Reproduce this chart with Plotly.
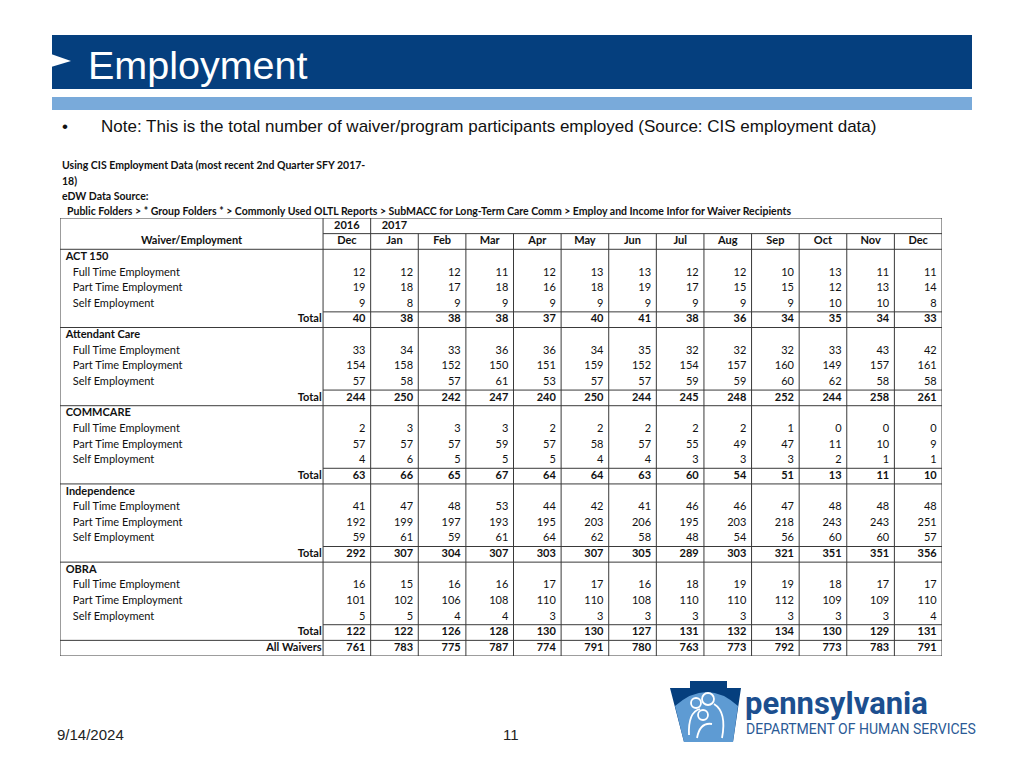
import plotly.graph_objects as go

# ---- data ----
years = ["2016", "2017"]
months = ["Dec", "Jan", "Feb", "Mar", "Apr", "May", "Jun", "Jul", "Aug", "Sep", "Oct", "Nov", "Dec"]
groups = ["ACT 150", "Attendant Care", "COMMCARE", "Independence", "OBRA"]
row_labels = ["Full Time Employment", "Part Time Employment", "Self Employment"]

act150_full = [12, 12, 12, 11, 12, 13, 13, 12, 12, 10, 13, 11, 11]
act150_part = [19, 18, 17, 18, 16, 18, 19, 17, 15, 15, 12, 13, 14]
act150_self = [9, 8, 9, 9, 9, 9, 9, 9, 9, 9, 10, 10, 8]
act150_total = [40, 38, 38, 38, 37, 40, 41, 38, 36, 34, 35, 34, 33]

attendant_full = [33, 34, 33, 36, 36, 34, 35, 32, 32, 32, 33, 43, 42]
attendant_part = [154, 158, 152, 150, 151, 159, 152, 154, 157, 160, 149, 157, 161]
attendant_self = [57, 58, 57, 61, 53, 57, 57, 59, 59, 60, 62, 58, 58]
attendant_total = [244, 250, 242, 247, 240, 250, 244, 245, 248, 252, 244, 258, 261]

commcare_full = [2, 3, 3, 3, 2, 2, 2, 2, 2, 1, 0, 0, 0]
commcare_part = [57, 57, 57, 59, 57, 58, 57, 55, 49, 47, 11, 10, 9]
commcare_self = [4, 6, 5, 5, 5, 4, 4, 3, 3, 3, 2, 1, 1]
commcare_total = [63, 66, 65, 67, 64, 64, 63, 60, 54, 51, 13, 11, 10]

independence_full = [41, 47, 48, 53, 44, 42, 41, 46, 46, 47, 48, 48, 48]
independence_part = [192, 199, 197, 193, 195, 203, 206, 195, 203, 218, 243, 243, 251]
independence_self = [59, 61, 59, 61, 64, 62, 58, 48, 54, 56, 60, 60, 57]
independence_total = [292, 307, 304, 307, 303, 307, 305, 289, 303, 321, 351, 351, 356]

obra_full = [16, 15, 16, 16, 17, 17, 16, 18, 19, 19, 18, 17, 17]
obra_part = [101, 102, 106, 108, 110, 110, 108, 110, 110, 112, 109, 109, 110]
obra_self = [5, 5, 4, 4, 3, 3, 3, 3, 3, 3, 3, 3, 4]
obra_total = [122, 122, 126, 128, 130, 130, 127, 131, 132, 134, 130, 129, 131]

all_waivers = [761, 783, 775, 787, 774, 791, 780, 763, 773, 792, 773, 783, 791]

group_rows = [
    (act150_full, act150_part, act150_self, act150_total),
    (attendant_full, attendant_part, attendant_self, attendant_total),
    (commcare_full, commcare_part, commcare_self, commcare_total),
    (independence_full, independence_part, independence_self, independence_total),
    (obra_full, obra_part, obra_self, obra_total),
]

# page body has an 8px margin, so the figure is a bit smaller than the window
OFF = 8
W, H = 1024 - 2 * OFF, 768 - 2 * OFF
NAVY = "#053F7E"
LINE = "#3a3a3a"
CAL = "Lato, 'Open Sans', sans-serif"
ARIAL = "'Liberation Sans', Arial, sans-serif"

# table grid: x in column units (months 0..13), label column to the left
LW = 263 / 47.6          # label column width in column units
n_rows = 2 + 5 * len(groups) + 1
PAD = 0.11


def px(x):
    return (x - OFF) / W


def py(y):
    return 1 - (y - OFF) / H


fig = go.Figure()

# ---- cell texts ----
num_x, num_y, num_t = [], [], []
lab_x, lab_y, lab_t, lab_pos = [], [], [], []

for c, m in enumerate(months):
    lab_x.append(c + 0.5); lab_y.append(1); lab_t.append("<b>%s</b>" % m); lab_pos.append("middle center")
for c, yr in enumerate(years):
    lab_x.append(c + 0.5); lab_y.append(0); lab_t.append("<b>%s</b>" % yr); lab_pos.append("middle center")
lab_x.append(-LW / 2); lab_y.append(1); lab_t.append("<b>Waiver/Employment</b>"); lab_pos.append("middle center")

for g, name in enumerate(groups):
    r0 = 2 + 5 * g
    lab_x.append(-LW + 0.12); lab_y.append(r0); lab_t.append("<b>%s</b>" % name); lab_pos.append("middle right")
    for k, lbl in enumerate(row_labels):
        lab_x.append(-LW + 0.27); lab_y.append(r0 + 1 + k); lab_t.append(lbl); lab_pos.append("middle right")
    lab_x.append(-0.03); lab_y.append(r0 + 4); lab_t.append("<b>Total</b>"); lab_pos.append("middle left")
    series = group_rows[g]
    for k, vals in enumerate(series):
        for c, v in enumerate(vals):
            num_x.append(c + 1 - PAD)
            num_y.append(r0 + 1 + k)
            num_t.append("<b>%d</b>" % v if k == 3 else str(v))

lab_x.append(-0.03); lab_y.append(n_rows - 1); lab_t.append("<b>All Waivers</b>"); lab_pos.append("middle left")
for c, v in enumerate(all_waivers):
    num_x.append(c + 1 - PAD); num_y.append(n_rows - 1); num_t.append("<b>%d</b>" % v)

fig.add_trace(go.Scatter(x=num_x, y=num_y, text=num_t, mode="text", textposition="middle left",
                         textfont=dict(family=CAL, size=11, color="#111"), hoverinfo="skip", showlegend=False))
fig.add_trace(go.Scatter(x=lab_x, y=lab_y, text=lab_t, mode="text", textposition=lab_pos,
                         textfont=dict(family=CAL, size=11, color="#111"), hoverinfo="skip", showlegend=False))

# ---- grid lines ----
shapes = []


def seg(x0, y0, x1, y1):
    shapes.append(dict(type="line", xref="x", yref="y", x0=x0, y0=y0, x1=x1, y1=y1,
                       line=dict(color=LINE, width=1)))


top, bot = -0.5, n_rows - 0.5
shapes.append(dict(type="rect", xref="x", yref="y", x0=-LW, y0=top, x1=len(months), y1=bot,
                   line=dict(color=LINE, width=1)))
seg(0, top, 0, bot)
seg(1, top, 1, bot)
for c in range(2, len(months)):
    seg(c, 0.5, c, bot)
seg(0, 0.5, len(months), 0.5)
seg(-LW, 1.5, len(months), 1.5)
for g in range(len(groups)):
    r0 = 2 + 5 * g
    seg(0, r0 + 3.5, len(months), r0 + 3.5)
    seg(-LW, r0 + 4.5, len(months), r0 + 4.5)


def poly(pts, fill):
    d = "M " + " L ".join("%f %f" % (px(a), py(b)) for a, b in pts) + " Z"
    shapes.append(dict(type="path", xref="paper", yref="paper", path=d, fillcolor=fill, line=dict(width=0)))


# ---- slide decoration ----
shapes.append(dict(type="rect", xref="paper", yref="paper", x0=px(52), x1=px(972), y0=py(35), y1=py(89),
                   fillcolor=NAVY, line=dict(width=0), layer="below"))
poly([(51, 54), (71, 61), (51, 67)], "white")
shapes.append(dict(type="rect", xref="paper", yref="paper", x0=px(52), x1=px(972), y0=py(97), y1=py(110),
                   fillcolor="#79AADA", line=dict(width=0), layer="below"))

# keystone logo
poly([(690, 681), (727, 681), (727, 688), (741, 688), (733, 742), (684, 742), (670, 688), (690, 688)], NAVY)
shapes.append(dict(type="path", xref="paper", yref="paper",
                   path="M %f %f Q %f %f %f %f L %f %f L %f %f Z" % (
                       px(675), py(706), px(707), py(678), px(738), py(706),
                       px(733), py(742), px(684), py(742)),
                   fillcolor="#5E9BD3", line=dict(width=0)))
for cx, cy, r in [(696, 703, 5), (708, 699, 6), (703, 715, 5)]:
    shapes.append(dict(type="circle", xref="paper", yref="paper", x0=px(cx - r), x1=px(cx + r),
                       y0=py(cy + r), y1=py(cy - r), fillcolor="rgba(0,0,0,0)",
                       line=dict(color="white", width=1.8)))
shapes.append(dict(type="path", xref="paper", yref="paper",
                   path="M %f %f Q %f %f %f %f" % (px(689), py(735), px(688), py(712), px(700), py(709)),
                   line=dict(color="white", width=1.8)))
shapes.append(dict(type="path", xref="paper", yref="paper",
                   path="M %f %f Q %f %f %f %f" % (px(714), py(704), px(727), py(712), px(722), py(738)),
                   line=dict(color="white", width=1.8)))
shapes.append(dict(type="path", xref="paper", yref="paper",
                   path="M %f %f Q %f %f %f %f" % (px(697), py(738), px(700), py(722), px(712), py(724)),
                   line=dict(color="white", width=1.8)))

ann = [
    dict(x=px(86), y=py(65), text="Employment", font=dict(family=ARIAL, size=39.5, color="white"),
         xanchor="left", yanchor="middle"),
    dict(x=px(60), y=py(127), text="•", font=dict(family=ARIAL, size=17, color="#111"),
         xanchor="left", yanchor="middle"),
    dict(x=px(99), y=py(127),
         text="Note: This is the total number of waiver/program participants employed (Source: CIS employment data)",
         font=dict(family=ARIAL, size=17, color="#111"), xanchor="left", yanchor="middle"),
    dict(x=px(60), y=py(165), text="<b>Using CIS Employment Data (most recent 2nd Quarter SFY 2017-</b>",
         font=dict(family=CAL, size=10.5, color="#111"), xanchor="left", yanchor="middle"),
    dict(x=px(60), y=py(181), text="<b>18)</b>", font=dict(family=CAL, size=10.5, color="#111"),
         xanchor="left", yanchor="middle"),
    dict(x=px(60), y=py(196), text="<b>eDW Data Source:</b>", font=dict(family=CAL, size=10.5, color="#111"),
         xanchor="left", yanchor="middle"),
    dict(x=px(65), y=py(211),
         text="<b>Public Folders > * Group Folders * > Commonly Used OLTL Reports > SubMACC for Long-Term Care Comm > Employ and Income Infor for Waiver Recipients</b>",
         font=dict(family=CAL, size=10.5, color="#111"), xanchor="left", yanchor="middle"),
    dict(x=px(55), y=py(734), text="9/14/2024", font=dict(family=ARIAL, size=15, color="#222"),
         xanchor="left", yanchor="middle"),
    dict(x=px(511), y=py(734), text="11", font=dict(family=ARIAL, size=15, color="#222"),
         xanchor="center", yanchor="middle"),
    dict(x=px(743), y=py(703), text="<b>pennsylvania</b>", font=dict(family="Roboto, sans-serif", size=31, color="#1C4F8F"),
         xanchor="left", yanchor="middle"),
    dict(x=px(744), y=py(729), text="DEPARTMENT OF HUMAN SERVICES", font=dict(family="Roboto, sans-serif", size=14, color="#2A5A96"),
         xanchor="left", yanchor="middle"),
]
for a in ann:
    a.update(xref="paper", yref="paper", showarrow=False)

fig.update_layout(
    width=W, height=H, margin=dict(l=0, r=0, t=0, b=0),
    paper_bgcolor="white", plot_bgcolor="white",
    shapes=shapes, annotations=ann, showlegend=False,
    xaxis=dict(range=[-LW, len(months)], domain=[px(60), px(942)], visible=False, fixedrange=True),
    yaxis=dict(range=[bot, top], domain=[py(656), py(218)], visible=False, fixedrange=True),
)

fig.write_html("out.html")
